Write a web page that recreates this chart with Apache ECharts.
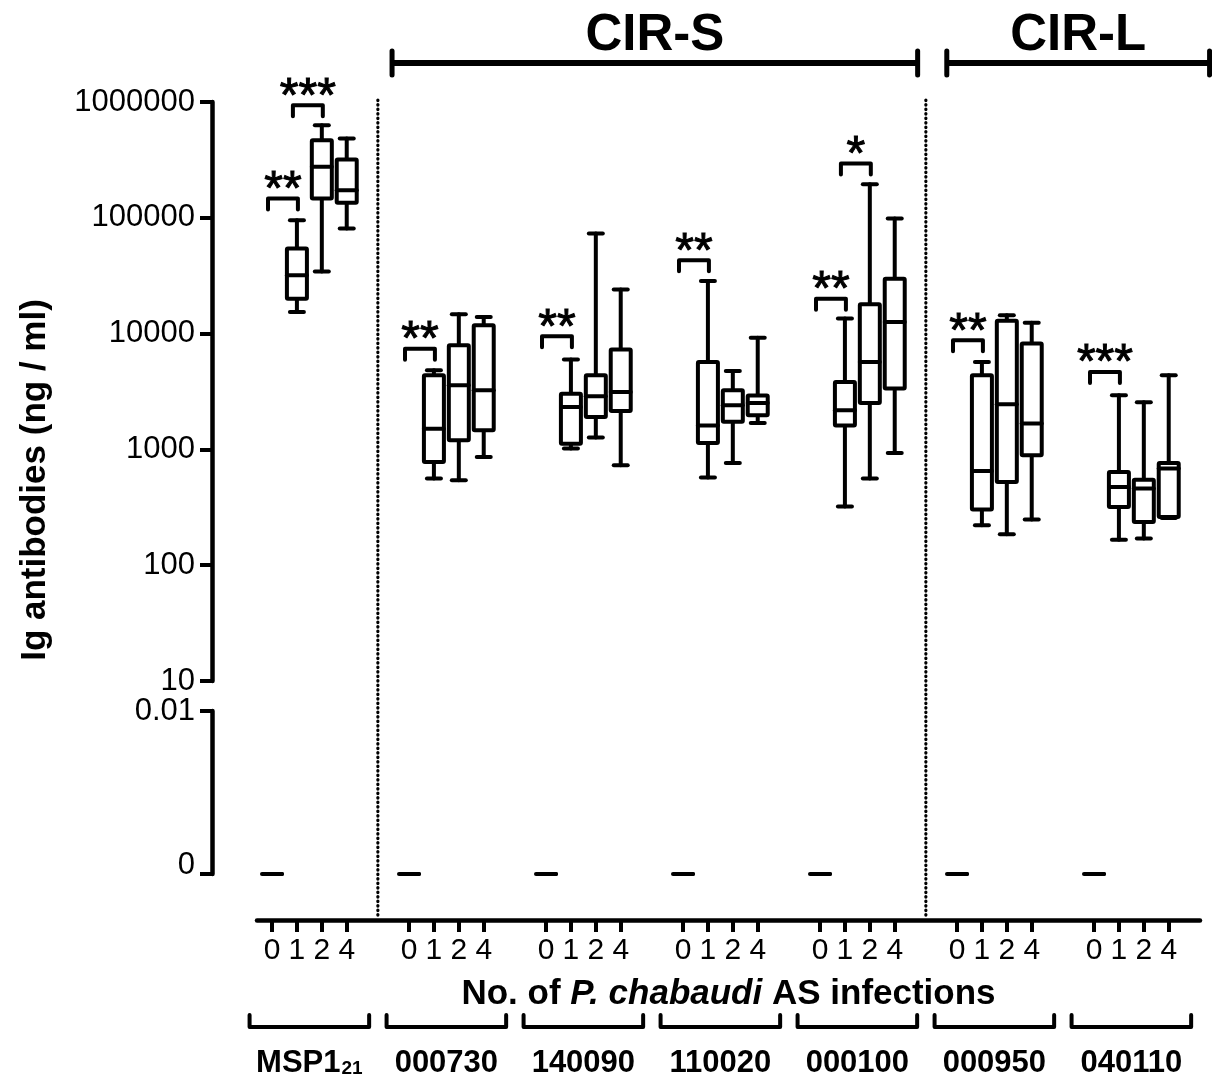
<!DOCTYPE html>
<html>
<head>
<meta charset="utf-8">
<script src="https://cdn.jsdelivr.net/npm/echarts@6/dist/echarts.min.js"></script>
<style>
  html, body { margin: 0; padding: 0; background: #fff; }
  #chart { width: 1212px; height: 1078px; }
</style>
</head>
<body>
<div id="chart"></div>
<script>
// ---------------- DATA ----------------
const groups = ['MSP1', '000730', '140090', '110020', '000100', '000950', '040110'];
const groupSubscripts = ['21', '', '', '', '', '', ''];
const infections = ['0', '1', '2', '4'];
const antigenFamilies = [
  { label: 'CIR-S', from: 4.82, to: 25.92 },
  { label: 'CIR-L', from: 27.09, to: 37.64 }
];
// Boxes: [min, Q1, median, Q3, max] (ng/ml) for 1, 2 and 4 infections
const msp1_21    = [[15400, 20000, 31900, 54200, 95100], [34300, 147000, 276000, 467000, 630000], [80900, 135000, 173000, 318000, 483000]];
const cir_000730 = [[560, 778, 1510, 4360, 4820], [541, 1200, 3580, 7930, 14700], [860, 1460, 3240, 11800, 13900]];
const cir_140090 = [[1016, 1120, 2320, 3030, 5970], [1265, 1900, 2880, 4360, 73100], [730, 2150, 3130, 7280, 24000]];
const cir_110020 = [[571, 1135, 1610, 5690, 28500], [764, 1730, 2400, 3240, 4750], [1690, 1970, 2520, 2920, 9230]];
const cir_000100 = [[322, 1610, 2180, 3820, 13500], [560, 2520, 5690, 17900, 195000], [930, 3350, 12600, 29800, 98400]];
const cir_000950 = [[221, 302, 650, 4360, 5690], [185, 522, 2450, 12900, 14400], [248, 889, 1670, 8200, 12400]];
const cir_040110 = [[166, 318, 473, 638, 2930], [170, 236, 459, 548, 2560], [255, 261, 683, 764, 4360]];
const boxesByGroup = [msp1_21, cir_000730, cir_140090, cir_110020, cir_000100, cir_000950, cir_040110];
// Naive (0 infections): all values 0 in every group
const naiveValues = [0, 0, 0, 0, 0];
// Significance: [group, fromInfectionIdx, toInfectionIdx, bracket level (ng/ml), label]
const significance = [
  [0, 0, 1, 147000, '**'],
  [0, 1, 2, 936000, '***'],
  [1, 0, 1, 7410, '**'],
  [2, 0, 1, 9480, '**'],
  [3, 0, 1, 42900, '**'],
  [4, 0, 1, 20000, '**'],
  [4, 1, 2, 294000, '*'],
  [5, 0, 1, 8750, '**'],
  [6, 0, 1, 4660, '***']
];
const yTicksTop = [10, 100, 1000, 10000, 100000, 1000000];
const yTicksBottom = [0, 0.01];

// ---------------- LAYOUT ----------------
const GROUP_STEP = 5.5;
const UNIT = 137 / GROUP_STEP;          // px per x unit
const LEFT = 257, RIGHT = 12, ZERO_X = 272, AXIS_END = 1200;
const X_MIN = -(ZERO_X - LEFT) / UNIT;
const X_MAX = (AXIS_END - ZERO_X) / UNIT;
const FONT = "'Liberation Sans', Arial, Helvetica, sans-serif";
const LW = 4;
const pos = (g, i) => g * GROUP_STEP + i;

const tickPositions = [];
const tickLabelMap = {};
groups.forEach((g, gi) => infections.forEach((lab, i) => {
  const p = pos(gi, i);
  tickPositions.push(p);
  tickLabelMap[p.toFixed(3)] = lab;
}));

const boxData = [];
boxesByGroup.forEach((arr, gi) => arr.forEach((v, k) => boxData.push([pos(gi, k + 1)].concat(v))));
const naiveData = groups.map((g, gi) => [pos(gi, 0)].concat(naiveValues));
const sigData = significance.map(s => [pos(s[0], s[1]), pos(s[0], s[2]), s[3]]);
const groupData = groups.map((g, gi) => [pos(gi, 1.5)]);
const dividerData = [[(pos(0, 3) + pos(1, 0)) / 2], [(pos(4, 3) + pos(5, 0)) / 2]];
const familyData = antigenFamilies.map(f => [f.from, f.to]);

function renderBox(params, api) {
  const x = api.value(0);
  const pMin = api.coord([x, api.value(1)]);
  const pQ1 = api.coord([x, api.value(2)]);
  const pMed = api.coord([x, api.value(3)]);
  const pQ3 = api.coord([x, api.value(4)]);
  const pMax = api.coord([x, api.value(5)]);
  const cx = pMin[0], hw = 10, cw = 7;
  const ls = { stroke: '#000', lineWidth: LW, lineCap: 'round', fill: null };
  return {
    type: 'group',
    children: [
      { type: 'line', shape: { x1: cx, y1: pMax[1], x2: cx, y2: pQ3[1] }, style: ls },
      { type: 'line', shape: { x1: cx, y1: pQ1[1], x2: cx, y2: pMin[1] }, style: ls },
      { type: 'line', shape: { x1: cx - cw, y1: pMax[1], x2: cx + cw, y2: pMax[1] }, style: ls },
      { type: 'line', shape: { x1: cx - cw, y1: pMin[1], x2: cx + cw, y2: pMin[1] }, style: ls },
      { type: 'rect', shape: { x: cx - hw, y: pQ3[1], width: 2 * hw, height: pQ1[1] - pQ3[1], r: 1 },
        style: { stroke: '#000', lineWidth: LW, fill: '#fff', lineJoin: 'round' } },
      { type: 'line', shape: { x1: cx - hw, y1: pMed[1], x2: cx + hw, y2: pMed[1] }, style: ls }
    ]
  };
}

function renderSig(params, api) {
  const a = api.coord([api.value(0), api.value(2)]);
  const b = api.coord([api.value(1), api.value(2)]);
  const x0 = a[0] - 4, x1 = b[0] + 1, y = a[1], drop = 11;
  return {
    type: 'group',
    children: [
      { type: 'polyline', shape: { points: [[x0, y + drop], [x0, y], [x1, y], [x1, y + drop]] },
        style: { stroke: '#000', lineWidth: LW, fill: null, lineJoin: 'round', lineCap: 'round' } },
      { type: 'text', style: { text: significance[params.dataIndex][4], x: (x0 + x1) / 2, y: y - 8, align: 'center', verticalAlign: 'middle',
        fontSize: 48, fontFamily: FONT, fill: '#000', stroke: '#000', lineWidth: 1 } }
    ]
  };
}

function renderFamily(params, api) {
  const a = api.coord([api.value(0), 1000000]);
  const b = api.coord([api.value(1), 1000000]);
  const y = a[1] - 39;
  const st = { stroke: '#000', lineWidth: 6, lineCap: 'butt', fill: null };
  const cap = { stroke: '#000', lineWidth: 5, lineCap: 'round' };
  return {
    type: 'group',
    children: [
      { type: 'line', shape: { x1: a[0], y1: y, x2: b[0], y2: y }, style: st },
      { type: 'line', shape: { x1: a[0], y1: y - 12, x2: a[0], y2: y + 12 }, style: cap },
      { type: 'line', shape: { x1: b[0], y1: y - 12, x2: b[0], y2: y + 12 }, style: cap },
      { type: 'text', style: { text: antigenFamilies[params.dataIndex].label, x: (a[0] + b[0]) / 2, y: y - 27, align: 'center', verticalAlign: 'middle',
        fontSize: 51, fontWeight: 'bold', fontFamily: FONT, fill: '#000' } }
    ]
  };
}

function renderDivider(params, api) {
  const t = api.coord([api.value(0), 1]);
  const b = api.coord([api.value(0), 0]);
  return { type: 'line', shape: { x1: t[0], y1: t[1], x2: b[0], y2: b[1] },
    style: { stroke: '#000', lineWidth: 3.2, lineDash: [0.6, 3.9], lineCap: 'round' } };
}

function renderGroupLabel(params, api) {
  const gi = params.dataIndex;
  const c = api.coord([api.value(0), 0]);
  const l = api.coord([api.value(0) - 2.4, 0]);
  const r = api.coord([api.value(0) + 2.4, 0]);
  const y = c[1] + 153;
  const sub = groupSubscripts[gi];
  const text = '{m|' + groups[gi] + '}' + (sub ? '{s|' + sub + '}' : '');
  return {
    type: 'group',
    children: [
      { type: 'polyline', shape: { points: [[l[0], y - 12], [l[0], y], [r[0], y], [r[0], y - 12]] },
        style: { stroke: '#000', lineWidth: 4, fill: null, lineJoin: 'round', lineCap: 'round' } },
      { type: 'text', style: { text: text, x: c[0], y: y + 36, align: 'center', verticalAlign: 'middle',
        rich: {
          m: { fontSize: 31, fontWeight: 'bold', fontFamily: FONT, fill: '#000' },
          s: { fontSize: 19, fontWeight: 'bold', fontFamily: FONT, fill: '#000', padding: [12, 0, 0, 1] }
        } } }
    ]
  };
}

const axisLineStyle = { color: '#000', width: 4.5 };
const labelFont = { color: '#000', fontFamily: FONT, fontSize: 31 };

const option = {
  backgroundColor: '#fff',
  animation: false,
  grid: [
    { left: LEFT, right: RIGHT, top: 102, bottom: 1078 - 681, outerBoundsMode: 'none' },
    { left: LEFT, right: RIGHT, top: 711, bottom: 1078 - 874, outerBoundsMode: 'none' },
    { left: LEFT, right: RIGHT, top: 100, bottom: 1078 - 919, outerBoundsMode: 'none' }
  ],
  xAxis: [
    { gridIndex: 0, type: 'value', min: X_MIN, max: X_MAX, show: false },
    { gridIndex: 1, type: 'value', min: X_MIN, max: X_MAX, position: 'bottom', offset: 46,
      axisLine: { show: true, onZero: false, lineStyle: axisLineStyle },
      axisTick: { show: true, customValues: tickPositions, length: 12, lineStyle: { color: '#000', width: 4 } },
      axisLabel: { customValues: tickPositions, margin: 16, color: '#000', fontFamily: FONT, fontSize: 30,
        formatter: v => tickLabelMap[Number(v).toFixed(3)] || '' },
      splitLine: { show: false },
      name: '{a|No. of }{b|P. chabaudi}{a| AS infections}',
      nameLocation: 'middle', nameGap: 57,
      nameTextStyle: { rich: {
        a: { fontSize: 35, fontWeight: 'bold', fontFamily: FONT, color: '#000' },
        b: { fontSize: 35, fontWeight: 'bold', fontStyle: 'italic', fontFamily: FONT, color: '#000' }
      } } },
    { gridIndex: 2, type: 'value', min: X_MIN, max: X_MAX, show: false }
  ],
  yAxis: [
    { gridIndex: 0, type: 'log', logBase: 10, min: yTicksTop[0], max: yTicksTop[yTicksTop.length - 1], offset: 45,
      axisLine: { show: true, onZero: false, lineStyle: axisLineStyle },
      axisTick: { show: true, length: 12, lineStyle: { color: '#000', width: 4 } },
      axisLabel: Object.assign({ margin: 17, formatter: v => String(Math.round(v)) }, labelFont),
      splitLine: { show: false } },
    { gridIndex: 1, type: 'value', min: yTicksBottom[0], max: yTicksBottom[1], interval: yTicksBottom[1], offset: 45,
      axisLine: { show: true, onZero: false, lineStyle: axisLineStyle },
      axisTick: { show: true, length: 12, lineStyle: { color: '#000', width: 4 } },
      axisLabel: { margin: 17, formatter: v => (v === 0 ? '{z|0}' : '{n|' + v + '}'),
        rich: {
          z: { fontSize: 31, fontFamily: FONT, color: '#000', padding: [0, 0, 18, 0] },
          n: { fontSize: 31, fontFamily: FONT, color: '#000' }
        } },
      splitLine: { show: false } },
    { gridIndex: 2, type: 'value', min: 0, max: 1, show: false }
  ],
  graphic: [
    { type: 'text', x: 35, y: 480, rotation: Math.PI / 2,
      style: { text: 'Ig antibodies (ng / ml)', align: 'center', verticalAlign: 'middle',
        fontSize: 35, fontWeight: 'bold', fontFamily: FONT, fill: '#000' } }
  ],
  series: [
    { type: 'custom', name: 'dividers', xAxisIndex: 2, yAxisIndex: 2, data: dividerData, renderItem: renderDivider, silent: true, z: 1 },
    { type: 'custom', name: 'boxes', xAxisIndex: 0, yAxisIndex: 0, data: boxData, renderItem: renderBox,
      encode: { x: 0, y: [1, 2, 3, 4, 5] }, z: 3 },
    { type: 'custom', name: 'naive', xAxisIndex: 1, yAxisIndex: 1, data: naiveData, renderItem: renderBox,
      encode: { x: 0, y: [1, 2, 3, 4, 5] }, z: 3 },
    { type: 'custom', name: 'significance', xAxisIndex: 0, yAxisIndex: 0, data: sigData, renderItem: renderSig,
      encode: { x: [0, 1], y: 2 }, z: 4 },
    { type: 'custom', name: 'families', xAxisIndex: 0, yAxisIndex: 0, data: familyData, renderItem: renderFamily,
      encode: { x: [0, 1] }, z: 4 },
    { type: 'custom', name: 'groups', xAxisIndex: 1, yAxisIndex: 1, data: groupData, renderItem: renderGroupLabel,
      encode: { x: 0 }, z: 4 }
  ]
};

const chart = echarts.init(document.getElementById('chart'), null, { renderer: 'canvas' });
chart.setOption(option);
</script>
</body>
</html>
